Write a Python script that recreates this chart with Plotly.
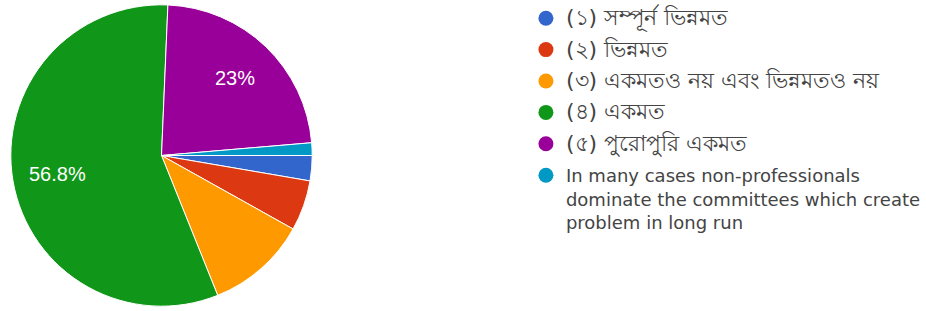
import math
import plotly.graph_objects as go

labels = [
    "(১) সম্পূর্ন ভিন্নমত",
    "(২) ভিন্নমত",
    "(৩) একমতও নয় এবং ভিন্নমতও নয়",
    "(৪) একমত",
    "(৫) পুরোপুরি একমত",
    "In many cases non-professionals<br>dominate the committees which create<br>problem in long run",
]
is_bengali = [True, True, True, True, True, False]
counts = [2, 4, 8, 42, 17, 1]
colors = ["#3366cc", "#dc3912", "#ff9900", "#109618", "#990099", "#0099c6"]

W, H = 926, 311
# pie geometry (pixels)
PX0, PX1, PY0, PY1 = 11, 317, 2, 309
ROT = 90

total = sum(counts)
pct_text = []
for c in counts:
    p = c / total * 100
    s = f"{p:.1f}".rstrip("0").rstrip(".")
    pct_text.append(s + "%" if p >= 15 else "")

fig = go.Figure()
fig.add_trace(go.Pie(
    labels=labels,
    values=counts,
    textinfo="none",
    marker=dict(colors=colors, line=dict(color="white", width=1)),
    sort=False,
    direction="clockwise",
    rotation=ROT,
    showlegend=False,
    hoverinfo="label+percent",
    domain=dict(x=[PX0 / W, PX1 / W], y=[1 - PY1 / H, 1 - PY0 / H]),
))

# percentage labels placed along each slice's mid-angle
cx, cy = (PX0 + PX1) / 2, (PY0 + PY1) / 2
r = min(PX1 - PX0, PY1 - PY0) / 2
cum = 0
for c, t in zip(counts, pct_text):
    mid = ROT + (cum + c / 2) / total * 360
    cum += c
    if not t:
        continue
    a = math.radians(mid)
    x = cx + 0.7 * r * math.sin(a)
    y = cy - 0.7 * r * math.cos(a)
    fig.add_annotation(x=x / W, y=1 - y / H, xref="paper", yref="paper",
                       xanchor="center", yanchor="middle",
                       text=t, showarrow=False,
                       font=dict(color="white", size=20, family="Arial"))

for i, (lab, col, bn) in enumerate(zip(labels, colors, is_bengali)):
    name = f'<span style="font-size:22px">{lab}</span>' if bn else lab
    fig.add_trace(go.Scatter(
        x=[None], y=[None], mode="markers", name=name,
        legendgroup=f"g{i}",
        marker=dict(symbol="circle", size=15, color=col),
    ))

fig.update_layout(
    width=W, height=H,
    margin=dict(l=0, r=0, t=0, b=0),
    paper_bgcolor="white", plot_bgcolor="white",
    xaxis=dict(visible=False), yaxis=dict(visible=False),
    legend=dict(
        x=534 / W, xanchor="left", y=1, yanchor="top",
        font=dict(family="DejaVu Sans", size=18, color="#444"),
        tracegroupgap=5,
        itemwidth=30,
        valign="top",
        maxheight=H,
        bgcolor="rgba(0,0,0,0)",
    ),
)
fig.write_html("out.html", config={"displayModeBar": False},
               post_script="document.body.style.margin='0';document.body.style.overflow='hidden';")
